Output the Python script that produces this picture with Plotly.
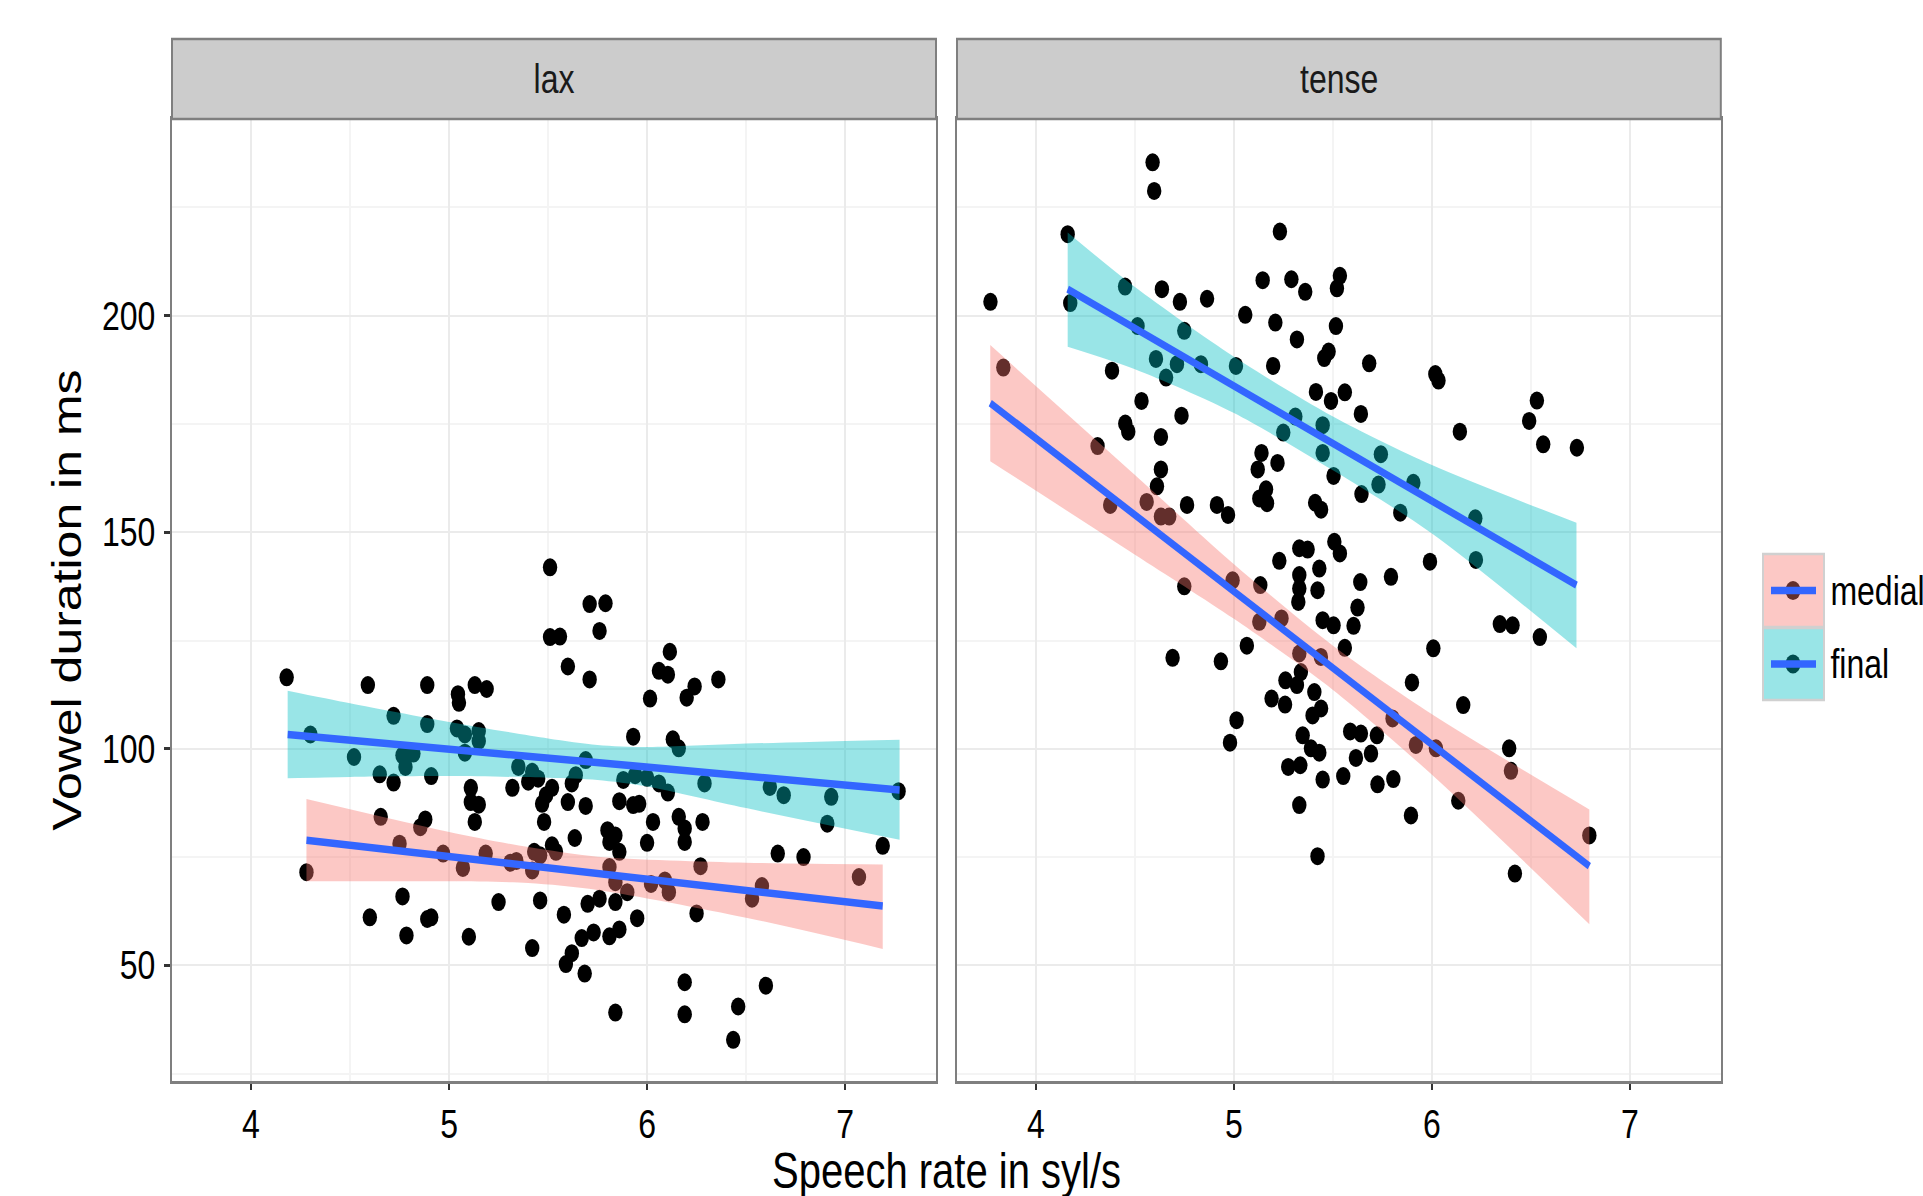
import plotly.graph_objects as go

# ---------------- data ----------------
lax_rate = [4.18, 4.30, 4.59, 4.89, 4.72, 4.89, 4.52, 4.65, 4.72, 4.765, 4.82, 4.78, 4.91, 5.045, 5.05, 5.13, 5.19,
            5.04, 5.08, 5.15, 5.15, 5.08, 5.51, 5.71, 5.76, 5.51, 5.56, 5.60, 5.71, 5.69, 5.35, 5.42, 5.45, 5.40,
            5.32, 5.52, 5.62, 5.64, 5.11,
            5.79, 6.115, 6.06, 6.105, 6.015, 6.24, 6.20, 6.36, 5.93, 6.13, 6.16, 5.88, 5.94, 6.00, 6.06, 6.105,
            6.29, 6.62, 6.69, 6.93, 7.27,
            4.28, 4.655, 4.75, 4.855, 4.88, 4.97, 5.07, 5.185, 5.31, 5.34, 5.42, 5.43, 5.46, 5.52, 5.54, 4.765,
            4.60, 4.785, 4.89, 4.91, 5.10, 5.25, 5.42, 5.46, 5.58, 5.70, 5.67, 5.62, 5.59, 5.685, 5.73, 5.11,
            5.15, 5.13, 5.47, 5.49, 5.48, 5.60, 5.69, 5.635,
            5.86, 5.93, 5.96, 6.03, 6.16, 6.19, 6.19, 6.28, 5.80, 5.84, 5.86, 5.81, 6.00, 5.81, 5.84, 5.90,
            5.84, 5.76, 6.02, 6.09, 6.11, 6.27, 6.25, 5.95, 5.81, 5.86, 6.58, 6.53, 6.66, 6.79, 7.07, 7.19,
            6.91, 6.19, 5.84, 6.19, 6.46, 6.60, 6.435]
lax_dur = [116.5, 103.3, 114.7, 114.7, 107.6, 105.7, 98.1, 94.1, 92.2, 98.5, 98.9, 95.8, 93.7, 112.6, 110.6, 114.7, 113.8,
           104.7, 103.3, 104.1, 101.8, 99.1, 141.9, 133.4, 127.2, 125.8, 125.9, 119.0, 116.0, 97.4, 95.8, 94.7, 93.1, 92.4,
           91.0, 91.0, 92.0, 93.9, 91.0,
           133.6, 122.4, 118.0, 117.1, 111.6, 114.4, 111.8, 116.0, 102.8, 102.2, 100.1, 92.8, 93.9, 93.3, 92.0, 89.9,
           92.0, 91.2, 89.3, 88.9, 90.2,
           71.5, 84.3, 78.1, 81.9, 83.7, 75.8, 72.5, 75.8, 73.7, 74.1, 71.9, 76.2, 75.4, 77.7, 76.2, 65.9,
           61.1, 56.9, 60.7, 61.1, 56.6, 64.6, 54.0, 65.0, 61.7, 64.2, 56.3, 52.8, 50.3, 48.1, 57.6, 87.7,
           87.1, 83.1, 87.3, 89.3, 83.1, 87.7, 86.8, 79.4,
           87.9, 87.0, 87.3, 83.1, 84.3, 81.6, 78.5, 83.1, 81.2, 80.0, 76.2, 78.5, 78.3, 72.7, 69.2, 66.9,
           64.6, 65.4, 68.8, 69.6, 66.9, 72.9, 62.0, 60.9, 56.7, 58.3, 68.3, 65.4, 75.8, 75.0, 70.4, 77.6,
           82.7, 46.1, 39.1, 38.7, 40.5, 45.3, 32.8]

tense_rate = [4.589, 4.597, 4.16, 3.77, 4.173, 4.45, 4.636, 4.727, 4.864, 5.232, 5.145, 5.29, 5.36, 5.057, 5.209,
              5.318, 4.513, 4.749, 4.606, 4.712, 4.657, 4.833, 5.01, 5.198, 4.384, 3.835, 4.533, 4.735, 4.451,
              4.466, 4.631, 4.311, 5.31, 5.249, 5.139, 5.22, 5.12, 4.631, 4.611, 5.162, 5.128, 5.167, 4.375,
              4.559, 4.763, 4.914, 4.631, 4.673, 4.97, 5.229, 5.33, 4.749, 4.993, 5.133, 5.128, 5.24, 5.33,
              5.33, 5.325, 5.065, 4.69, 4.934, 5.33, 5.338, 5.26, 5.318, 5.19, 5.258, 5.013, 4.98, 5.347,
              5.274, 5.335, 5.33,
              5.535, 5.52, 5.515, 5.478, 5.456, 5.683, 6.017, 6.033, 5.414, 5.49, 5.56, 5.641, 5.448, 5.448,
              5.742, 5.73, 5.906, 5.503, 5.644, 5.41, 5.44, 5.84, 6.141, 6.53, 6.491, 6.562, 6.732,
              6.219, 6.222, 5.99, 5.793, 5.372, 5.507, 5.535, 5.431, 5.422, 5.638, 5.624, 5.448, 5.503, 5.604,
              5.56, 5.439, 5.406, 5.44, 5.397, 5.389, 5.431, 5.448, 5.552, 5.422, 5.587, 5.641, 5.722, 5.616,
              5.692, 5.725, 5.805, 5.801, 5.919, 6.02, 5.899, 6.007, 6.158, 5.894, 6.133, 6.39, 6.399, 6.795,
              6.419, 6.343, 6.407, 6.545]
tense_dur = [235.4, 228.8, 218.8, 203.2, 202.9, 206.7, 206.1, 203.2, 203.9, 219.4, 208.2, 208.4, 205.5, 200.2, 198.4,
             194.5, 197.6, 196.5, 190.0, 188.8, 185.7, 188.8, 188.4, 188.4, 187.3, 188.0, 180.3, 176.9, 175.1,
             173.2, 172.0, 169.9, 176.7, 173.0, 168.3, 166.0, 164.5, 164.5, 160.6, 159.9, 157.8, 156.7, 156.3,
             157.0, 156.3, 156.3, 153.6, 153.6, 154.0, 143.4, 146.3, 137.5, 138.9, 137.8, 129.3, 130.1, 140.1,
             137.0, 133.9, 123.8, 121.0, 120.2, 122.0, 117.7, 115.8, 114.7, 111.6, 110.2, 106.6, 101.4, 103.1,
             95.8, 96.2, 87.0,
             209.2, 206.3, 197.6, 191.7, 190.2, 189.0, 186.5, 185.0, 182.4, 180.3, 182.3, 177.3, 174.7, 168.3,
             168.0, 161.0, 161.4, 163.0, 158.8, 156.8, 155.2, 154.5, 173.2, 180.4, 175.7, 170.3, 169.5,
             153.2, 143.6, 143.2, 139.7, 146.0, 147.8, 145.1, 141.6, 136.6, 138.5, 132.6, 129.7, 128.5, 128.4,
             123.3, 121.2, 113.1, 109.3, 107.7, 100.1, 99.1, 92.9, 93.7, 75.2, 104.0, 103.5, 103.1, 97.9,
             98.9, 91.8, 93.0, 107.0, 100.9, 100.1, 115.3, 123.2, 110.1, 84.6, 88.0, 100.1, 94.9, 80.0,
             71.2, 128.8, 128.5, 125.8]

# fitted lines (endpoints) and confidence bands
lax_final_line_x = [4.185, 7.275]
lax_final_line_y = [103.3, 90.5]
lax_final_band_x = [4.185, 4.5, 5.0, 5.5, 5.75, 6.0, 6.5, 7.275]
lax_final_band_hi = [113.4, 110.5, 106.2, 102.4, 100.9, 100.4, 101.2, 102.1]
lax_final_band_lo = [93.2, 93.5, 93.7, 93.3, 92.8, 91.3, 86.3, 79.0]

lax_medial_line_x = [4.28, 7.19]
lax_medial_line_y = [78.9, 63.7]
lax_medial_band_x = [4.28, 5.0, 5.4, 5.75, 6.5, 7.19]
lax_medial_band_hi = [88.4, 80.8, 77.3, 75.1, 73.7, 73.3]
lax_medial_band_lo = [69.4, 69.4, 69.0, 67.4, 61.0, 53.8]

tense_final_line_x = [4.16, 6.73]
tense_final_line_y = [206.1, 137.8]
tense_final_band_x = [4.16, 4.5, 5.0, 5.5, 6.0, 6.73]
tense_final_band_hi = [219.2, 206.6, 190.5, 176.7, 165.5, 152.2]
tense_final_band_lo = [192.8, 187.6, 177.5, 164.3, 149.7, 123.2]

tense_medial_line_x = [3.769, 6.795]
tense_medial_line_y = [179.8, 72.9]
tense_medial_band_x = [3.769, 4.5, 5.0, 5.5, 6.0, 6.795]
tense_medial_band_hi = [193.2, 163.2, 142.6, 123.8, 108.0, 86.0]
tense_medial_band_lo = [166.4, 144.8, 130.0, 113.6, 94.0, 59.5]

panels = ["lax", "tense"]
legend_labels = ["medial", "final"]
x_ticks = [4, 5, 6, 7]
y_ticks = [50, 100, 150, 200]

# ---------------- style ----------------
# The reference image is horizontally condensed; the figure is laid out at a wider
# width and squeezed horizontally by SX with a CSS transform.
SX = 0.8
FONT = "Liberation Sans, Arial, Helvetica, sans-serif"
PINK_FILL = "rgba(248,118,109,0.4)"
TEAL_FILL = "rgba(0,191,196,0.4)"
BLUE = "#3366FF"
W_OUT, H = 1923, 1196


def ux(X):  # reference pixel x -> layout pixel x
    return X / SX


W = round(ux(W_OUT))
L = round(ux(172))
R = W - round(ux(1721))
T, B = 119, 115
PW = W - L - R
PH = H - T - B

fig = go.Figure()


def add_panel(xa, ya, px, py, bands, lines):
    fig.add_trace(go.Scatter(x=px, y=py, mode="markers", xaxis=xa, yaxis=ya,
                             marker=dict(color="black", size=18, line=dict(width=0)),
                             showlegend=False, hoverinfo="skip"))
    for bx, hi, lo, col in bands:
        fig.add_trace(go.Scatter(x=bx, y=lo, mode="lines", line=dict(width=0, shape="spline", smoothing=0.8),
                                 xaxis=xa, yaxis=ya, showlegend=False, hoverinfo="skip"))
        fig.add_trace(go.Scatter(x=bx, y=hi, mode="lines", fill="tonexty", fillcolor=col,
                                 line=dict(width=0, shape="spline", smoothing=0.8),
                                 xaxis=xa, yaxis=ya, showlegend=False, hoverinfo="skip"))
    for lx, ly in lines:
        fig.add_trace(go.Scatter(x=lx, y=ly, mode="lines", line=dict(color=BLUE, width=7.5),
                                 xaxis=xa, yaxis=ya, showlegend=False, hoverinfo="skip"))


add_panel("x", "y", lax_rate, lax_dur,
          [(lax_medial_band_x, lax_medial_band_hi, lax_medial_band_lo, PINK_FILL),
           (lax_final_band_x, lax_final_band_hi, lax_final_band_lo, TEAL_FILL)],
          [(lax_medial_line_x, lax_medial_line_y), (lax_final_line_x, lax_final_line_y)])
add_panel("x2", "y2", tense_rate, tense_dur,
          [(tense_medial_band_x, tense_medial_band_hi, tense_medial_band_lo, PINK_FILL),
           (tense_final_band_x, tense_final_band_hi, tense_final_band_lo, TEAL_FILL)],
          [(tense_medial_line_x, tense_medial_line_y), (tense_final_line_x, tense_final_line_y)])

XR = [3.601, 7.459]
YR = [23.3, 245.4]
d1 = [0, (ux(936) - L) / PW]
d2 = [(ux(957) - L) / PW, 1]

TICKFONT = dict(family=FONT, size=40, color="black")
common_x = dict(range=XR, tickvals=x_ticks, ticktext=[str(v) for v in x_ticks], showgrid=True,
                gridcolor="#ebebeb", gridwidth=2, zeroline=False, showline=True, mirror=True,
                linecolor="#7f7f7f", linewidth=2.5, ticks="outside", ticklen=6, tickwidth=2.5,
                tickcolor="#333333", tickfont=TICKFONT,
                minor=dict(tickvals=[4.5, 5.5, 6.5], showgrid=True, gridcolor="#f4f4f4", gridwidth=2, ticks=""))
common_y = dict(range=YR, tickvals=y_ticks, showgrid=True, gridcolor="#ebebeb", gridwidth=2,
                zeroline=False, showline=True, mirror=True, linecolor="#7f7f7f", linewidth=2.5,
                minor=dict(tickvals=[25, 75, 125, 175, 225], showgrid=True, gridcolor="#f4f4f4",
                           gridwidth=2, ticks=""))

fig.update_layout(
    width=W, height=H, margin=dict(l=L, r=R, t=T, b=B, pad=0),
    paper_bgcolor="white", plot_bgcolor="white", showlegend=False,
    font=dict(family=FONT, color="black"),
    xaxis=dict(domain=d1, anchor="y", **common_x),
    xaxis2=dict(domain=d2, anchor="y2", **common_x),
    yaxis=dict(domain=[0, 1], anchor="x", ticks="outside", ticklen=7, tickwidth=2.5, tickcolor="#333333",
               ticklabelstandoff=3, tickfont=TICKFONT, **common_y),
    yaxis2=dict(domain=[0, 1], anchor="x2", showticklabels=False, ticks="", **common_y),
)

# facet strips
strip_h = 80 / PH
shapes = []
annotations = []
for xa, ya, name in [("x", "y", panels[0]), ("x2", "y2", panels[1])]:
    shapes.append(dict(type="rect", xref=xa + " domain", yref=ya + " domain", x0=0, x1=1, y0=1, y1=1 + strip_h,
                       fillcolor="#cccccc", line=dict(color="#7f7f7f", width=2.5), layer="above"))
    annotations.append(dict(text=name, xref=xa + " domain", yref=ya + " domain", x=0.5, y=1 + strip_h / 2,
                            showarrow=False, xanchor="center", yanchor="middle",
                            font=dict(family=FONT, size=40, color="#1a1a1a")))


def px_x(X):  # reference pixel x -> paper
    return (ux(X) - L) / PW


def px_y(Y):  # reference pixel y -> paper
    return (H - B - Y) / PH


annotations.append(dict(text="Speech rate in syl/s", xref="paper", yref="paper", x=0.5, y=px_y(1171),
                        showarrow=False, xanchor="center", yanchor="middle",
                        font=dict(family=FONT, size=50, color="black")))
annotations.append(dict(text="Vowel duration in ms", xref="paper", yref="paper", x=px_x(67), y=0.5,
                        showarrow=False, xanchor="center", yanchor="middle", textangle=-90,
                        font=dict(family=FONT, size=50, color="black")))

# legend (drawn to mimic ggplot keys: point under ribbon, with the fit line)
key_cols = [("#fcc8c5", "#632f2c"), ("#99e5e7", "#004c4e")]
key_rows = [(554, 627), (628, 700)]
for (fillc, dotc), (y0, y1), lab in zip(key_cols, key_rows, legend_labels):
    shapes.append(dict(type="rect", xref="paper", yref="paper", x0=px_x(1763), x1=px_x(1824),
                       y0=px_y(y1), y1=px_y(y0), fillcolor=fillc, line=dict(color="#d0d0d0", width=2.5)))
    cy = (y0 + y1) / 2
    shapes.append(dict(type="circle", xref="paper", yref="paper", x0=px_x(1785.5), x1=px_x(1800.5),
                       y0=px_y(cy + 9.5), y1=px_y(cy - 9.5), fillcolor=dotc, line=dict(width=0)))
    shapes.append(dict(type="line", xref="paper", yref="paper", x0=px_x(1771), x1=px_x(1816),
                       y0=px_y(cy), y1=px_y(cy), line=dict(color=BLUE, width=7.5)))
    annotations.append(dict(text=lab, xref="paper", yref="paper", x=px_x(1829), y=px_y(cy),
                            showarrow=False, xanchor="left", yanchor="middle",
                            font=dict(family=FONT, size=40, color="black")))

fig.update_layout(shapes=shapes, annotations=annotations)

post = ("var gd=document.getElementById('{plot_id}');"
        "document.documentElement.style.overflow='hidden';"
        "document.body.style.margin='0';document.body.style.overflow='hidden';"
        "gd.style.transformOrigin='0 0';gd.style.transform='scaleX(%s)';" % SX)

fig.write_html("out.html", config={"displayModeBar": False}, post_script=post)
